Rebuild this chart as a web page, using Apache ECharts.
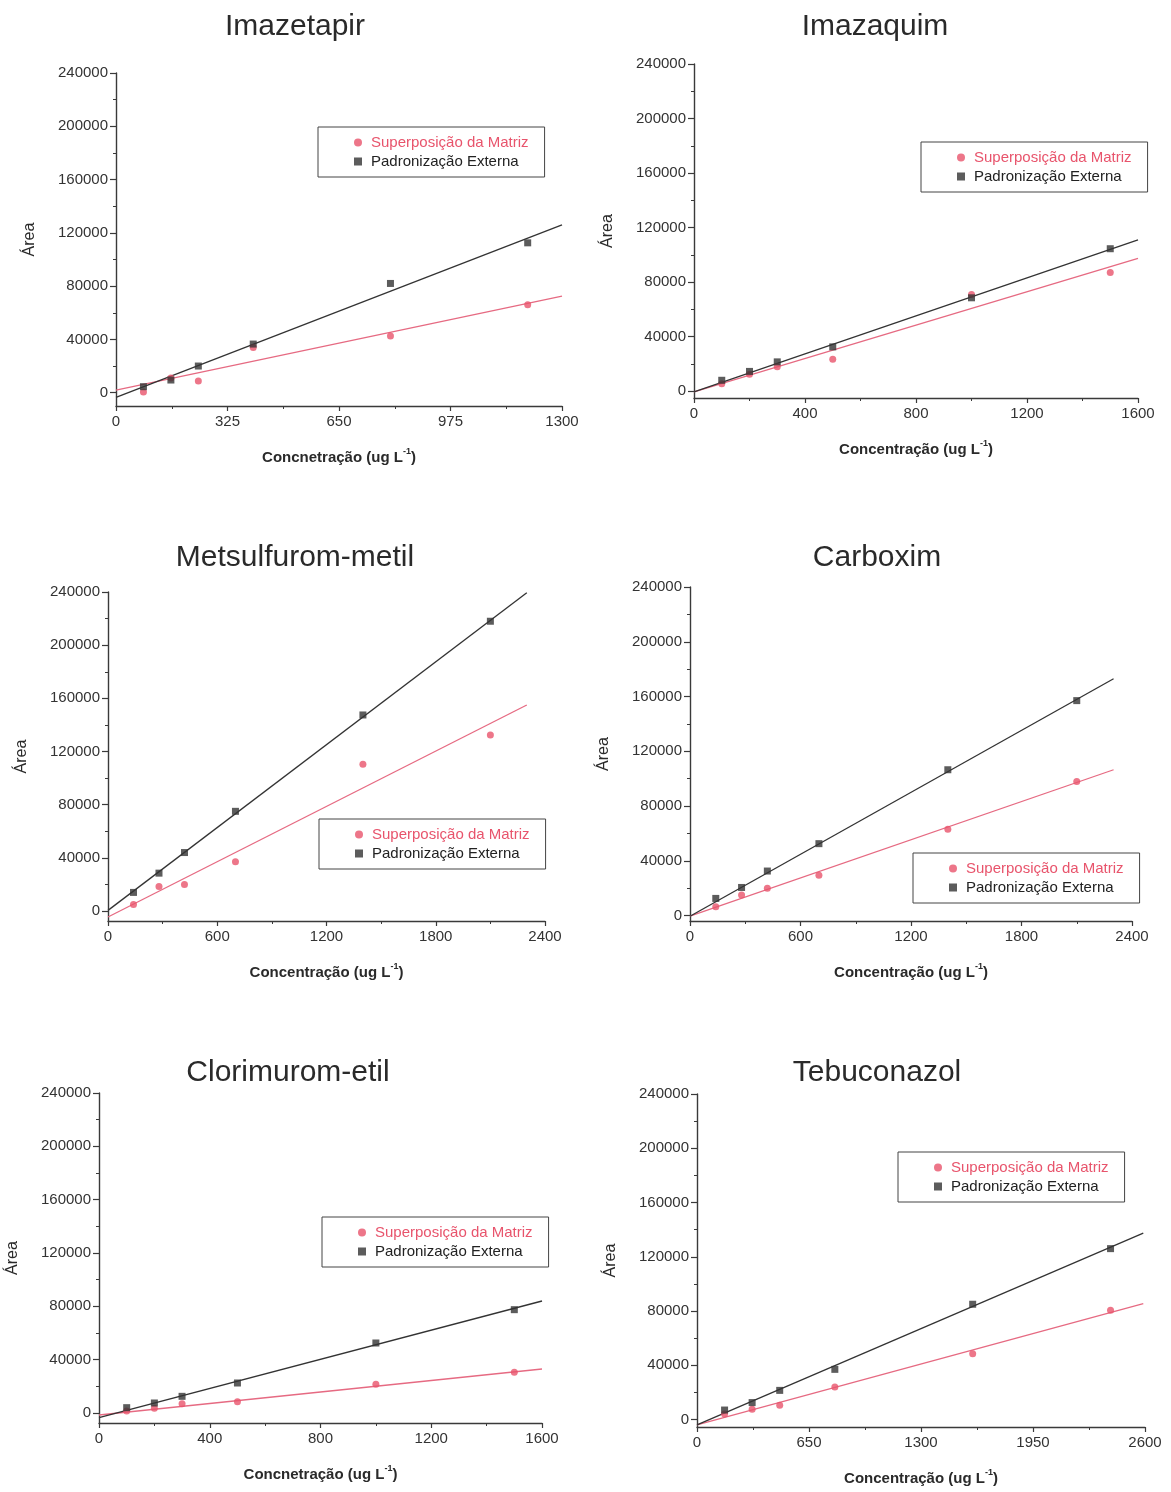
<!DOCTYPE html>
<html>
<head>
<meta charset="utf-8">
<script src="https://cdn.jsdelivr.net/npm/echarts@6/dist/echarts.min.js"></script>
<style>
html,body{margin:0;padding:0;background:#fff;}
#chart{width:1171px;height:1492px;}
</style>
</head>
<body>
<div id="chart"></div>
<script>
// ---------- DATA ----------
const titles = ['Imazetapir', 'Imazaquim', 'Metsulfurom-metil', 'Carboxim', 'Clorimurom-etil', 'Tebuconazol'];
const xAxisNames = ['Concnetração', 'Concentração', 'Concentração', 'Concentração', 'Concnetração', 'Concentração'];
const yAxisName = 'Área';
const seriesMatrizName = 'Superposição da Matriz';
const seriesExternaName = 'Padronização Externa';

const xMax = [1300, 1600, 2400, 2400, 1600, 2600];
const xInterval = [325, 400, 600, 600, 400, 650];
const yMin = [-10000, -5000, -7500, -4000, -7500, -5500];
const yMax = 240000;
const yTickValues = [0, 40000, 80000, 120000, 160000, 200000, 240000];
const yMinorTickValues = [20000, 60000, 100000, 140000, 180000, 220000];

// Imazetapir
const conc1 = [80, 160, 240, 400, 800, 1200];
const matriz1 = [500, 11000, 8800, 34000, 42500, 66000];
const externa1 = [4500, 9500, 20000, 36500, 82000, 112500];
const fitMatriz1 = [[0, 2000], [1300, 72500]];
const fitExterna1 = [[0, -3500], [1300, 126000]];

// Imazaquim
const conc2 = [100, 200, 300, 500, 1000, 1500];
const matriz2 = [5500, 12500, 18000, 23500, 71000, 87000];
const externa2 = [8000, 14500, 21500, 32500, 68500, 104500];
const fitMatriz2 = [[0, -500], [1600, 97500]];
const fitExterna2 = [[0, -500], [1600, 111000]];

// Metsulfurom-metil
const conc3 = [140, 280, 420, 700, 1400, 2100];
const matriz3 = [5000, 18500, 20000, 37000, 110500, 132500];
const externa3 = [14000, 28500, 44000, 75000, 147500, 218000];
const fitMatriz3 = [[0, -4500], [2300, 155000]];
const fitExterna3 = [[0, 500], [2300, 239500]];

// Carboxim
const conc4 = [140, 280, 420, 700, 1400, 2100];
const matriz4 = [6500, 15000, 20000, 29500, 63000, 98000];
const externa4 = [12500, 20500, 32500, 52500, 106500, 157000];
const fitMatriz4 = [[0, -500], [2300, 106500]];
const fitExterna4 = [[0, -500], [2300, 173000]];

// Clorimurom-etil
const conc5 = [100, 200, 300, 500, 1000, 1500];
const matriz5 = [1500, 3500, 7000, 8500, 21500, 30500];
const externa5 = [4000, 7500, 12500, 22500, 52500, 77500];
const fitMatriz5 = [[0, -1500], [1600, 33000]];
const fitExterna5 = [[0, -3500], [1600, 84000]];

// Tebuconazol
const conc6 = [160, 320, 480, 800, 1600, 2400];
const matriz6 = [4000, 7500, 10500, 24000, 48500, 80500];
const externa6 = [7000, 12500, 21500, 37000, 85000, 126000];
const fitMatriz6 = [[0, -4000], [2590, 85500]];
const fitExterna6 = [[0, -4000], [2590, 137500]];

const concs = [conc1, conc2, conc3, conc4, conc5, conc6];
const matrizes = [matriz1, matriz2, matriz3, matriz4, matriz5, matriz6];
const externas = [externa1, externa2, externa3, externa4, externa5, externa6];
const fitsMatriz = [fitMatriz1, fitMatriz2, fitMatriz3, fitMatriz4, fitMatriz5, fitMatriz6];
const fitsExterna = [fitExterna1, fitExterna2, fitExterna3, fitExterna4, fitExterna5, fitExterna6];

// ---------- LAYOUT ----------
const gridBoxes = [
  [116, 73, 446, 333],
  [694, 64, 444, 334],
  [108, 592, 437, 329],
  [690, 587, 442, 334],
  [99, 1093, 443, 330],
  [697, 1094, 448, 333]
];
const titlePos = [[290, 7], [870, 7], [290, 538], [872, 538], [283, 1053], [872, 1053]];
const legendPos = [[318, 127], [921, 142], [319, 819], [913, 853], [322, 1217], [898, 1152]];

const FONT = '"Liberation Sans", Arial, sans-serif';
const RED = '#e8546c';
const RED_LINE = '#e66a82';
const BLACK = '#333333';
const AXIS = '#3a3a3a';

const pair = (xs, ys) => xs.map((x, i) => [x, ys[i]]);
const plain = v => String(v);

const option = {
  backgroundColor: '#ffffff',
  animation: false,
  textStyle: { fontFamily: FONT },
  title: [], grid: [], xAxis: [], yAxis: [], series: [], legend: []
};

for (let p = 0; p < 6; p++) {
  const [gl, gt, gw, gh] = gridBoxes[p];
  option.title.push({
    text: titles[p], left: titlePos[p][0], top: titlePos[p][1], textAlign: 'center',
    textStyle: { fontFamily: FONT, fontSize: 30, fontWeight: 'normal', color: '#2a2a2a' }
  });
  option.grid.push({ left: gl, top: gt, width: gw, height: gh, containLabel: false });
  option.xAxis.push({
    type: 'value', gridIndex: p, min: 0, max: xMax[p], interval: xInterval[p],
    name: xAxisNames[p] + ' (ug L{sup|-1})',
    nameLocation: 'middle', nameGap: 41,
    nameTextStyle: {
      fontFamily: FONT, fontSize: 15, fontWeight: 'bold', color: '#2a2a2a',
      rich: { sup: { fontSize: 9, fontWeight: 'bold', color: '#2a2a2a', verticalAlign: 'top', lineHeight: 22 } }
    },
    axisLine: { show: true, onZero: false, lineStyle: { color: AXIS, width: 1.4 } },
    axisTick: { show: true, length: 5, lineStyle: { color: AXIS, width: 1.2 } },
    minorTick: { show: true, splitNumber: 2, length: 3, lineStyle: { color: AXIS, width: 1 } },
    axisLabel: { fontFamily: FONT, fontSize: 15, color: '#333', margin: 8, formatter: plain },
    splitLine: { show: false }, minorSplitLine: { show: false }
  });
  option.yAxis.push({
    type: 'value', gridIndex: p, min: yMin[p], max: yMax,
    name: yAxisName, nameLocation: 'middle', nameGap: 78, nameRotate: 90,
    nameTextStyle: { fontFamily: FONT, fontSize: 16, color: '#2a2a2a' },
    axisLine: { show: true, onZero: false, lineStyle: { color: AXIS, width: 1.4 } },
    axisTick: { show: true, length: 6, customValues: yTickValues, lineStyle: { color: AXIS, width: 1.2 } },
    axisLabel: { fontFamily: FONT, fontSize: 15, color: '#333', margin: 8, customValues: yTickValues, formatter: plain },
    splitLine: { show: false }
  });
  option.yAxis.push({
    type: 'value', gridIndex: p, min: yMin[p], max: yMax, position: 'left',
    axisLine: { show: false },
    axisTick: { show: true, length: 3, customValues: yMinorTickValues, lineStyle: { color: AXIS, width: 1 } },
    axisLabel: { show: false, customValues: yMinorTickValues },
    splitLine: { show: false }
  });
  const yIdx = p * 2;
  option.series.push({
    name: 'ajuste-matriz-' + p, type: 'line', xAxisIndex: p, yAxisIndex: yIdx,
    data: fitsMatriz[p], showSymbol: false, silent: true,
    lineStyle: { color: RED_LINE, width: 1.3 }, z: 2
  });
  option.series.push({
    name: 'ajuste-externa-' + p, type: 'line', xAxisIndex: p, yAxisIndex: yIdx,
    data: fitsExterna[p], showSymbol: false, silent: true,
    lineStyle: { color: BLACK, width: 1.3 }, z: 2
  });
  option.series.push({
    name: seriesMatrizName, type: 'scatter', xAxisIndex: p, yAxisIndex: yIdx,
    data: pair(concs[p], matrizes[p]), symbol: 'circle', symbolSize: 7,
    itemStyle: { color: RED }, z: 3
  });
  option.series.push({
    name: seriesExternaName, type: 'scatter', xAxisIndex: p, yAxisIndex: yIdx,
    data: pair(concs[p], externas[p]), symbol: 'rect', symbolSize: 7,
    itemStyle: { color: BLACK }, z: 4
  });
  option.legend.push({
    left: legendPos[p][0], top: legendPos[p][1], orient: 'vertical',
    data: [
      { name: seriesMatrizName, icon: 'circle', textStyle: { color: RED } },
      { name: seriesExternaName, icon: 'rect', textStyle: { color: '#222' } }
    ],
    itemWidth: 8, itemHeight: 8, itemGap: 4,
    padding: [8, 16, 8, 36],
    borderColor: '#444', borderWidth: 1, backgroundColor: '#fff',
    selectedMode: false,
    textStyle: { fontFamily: FONT, fontSize: 15, padding: [0, 0, 0, 4] }
  });
}

const chart = echarts.init(document.getElementById('chart'), null, { renderer: 'canvas' });
chart.setOption(option);
</script>
</body>
</html>
